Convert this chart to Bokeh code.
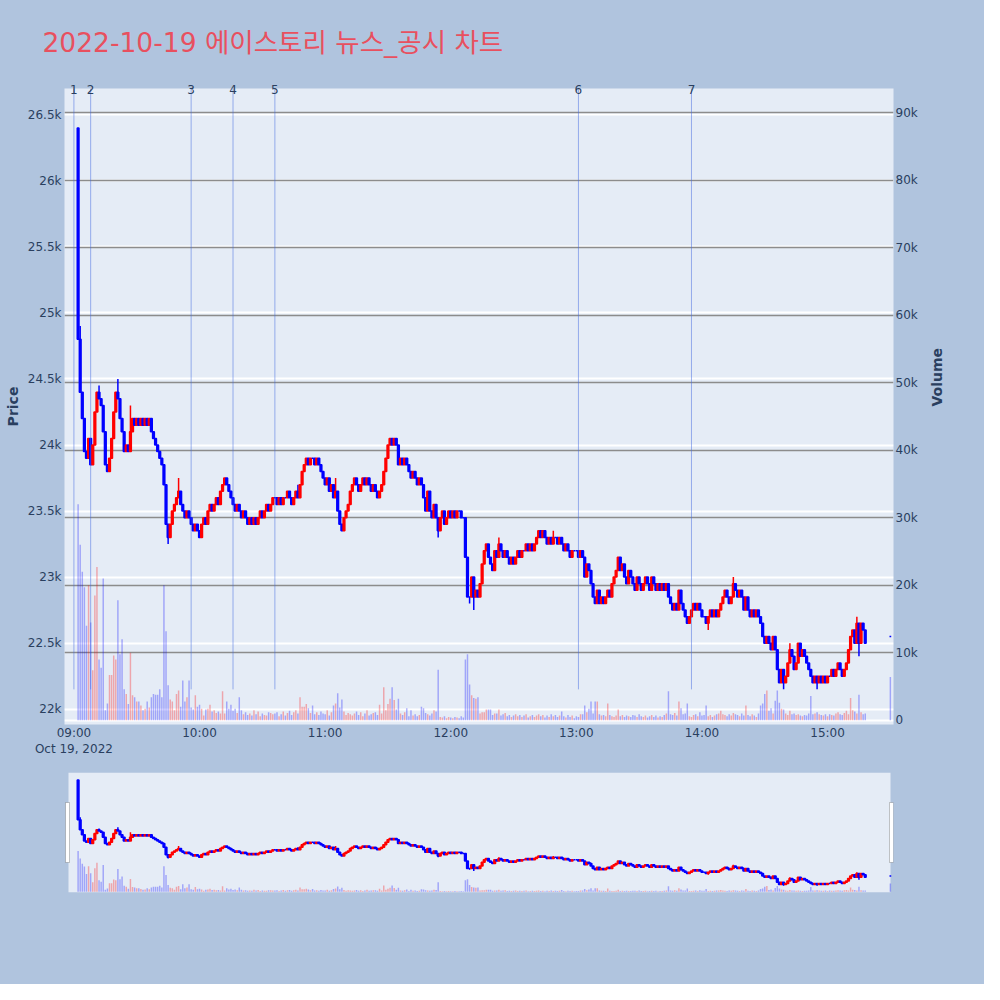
import math
import pandas as pd
from bokeh.plotting import figure
from bokeh.models import (ColumnDataSource, Range1d, LinearAxis, DatetimeAxis, FixedTicker,
                          CustomJSTickFormatter, DatetimeTickFormatter, Grid, BoxAnnotation)
from bokeh.layouts import column
from bokeh.embed import file_html
from bokeh.resources import INLINE

# ---------------- data ----------------
DAY = "2022-10-19"
TITLE = "2022-10-19 에이스토리 뉴스_공시 차트"
FIRST_MINUTE = "09:02"
FIRST_OPEN = 26400

closes = [
    24800, 24400, 24200, 23950, 23900, 24050, 23850, 24000, 24250, 24400,  # 09:02-09:11
    24350, 24300, 24100, 23850, 23800, 23900, 24050, 24250, 24400, 24350,  # 09:12-09:21
    24200, 24100, 23950, 24000, 23950, 24100, 24200, 24150, 24200, 24150,  # 09:22-09:31
    24200, 24150, 24200, 24150, 24200, 24100, 24050, 24000, 23950, 23900,  # 09:32-09:41
    23850, 23700, 23400, 23300, 23400, 23500, 23550, 23600, 23650, 23550,  # 09:42-09:51
    23500, 23450, 23500, 23450, 23400, 23350, 23400, 23350, 23300, 23400,  # 09:52-10:01
    23450, 23400, 23500, 23550, 23500, 23550, 23600, 23550, 23650, 23700,  # 10:02-10:11
    23750, 23700, 23650, 23600, 23550, 23500, 23550, 23500, 23450, 23500,  # 10:12-10:21
    23450, 23400, 23450, 23400, 23450, 23400, 23450, 23500, 23450, 23500,  # 10:22-10:31
    23550, 23500, 23550, 23600, 23600, 23550, 23600, 23550, 23600, 23600,  # 10:32-10:41
    23650, 23600, 23550, 23600, 23650, 23600, 23700, 23800, 23850, 23900,  # 10:42-10:51
    23850, 23900, 23900, 23850, 23900, 23850, 23800, 23750, 23700, 23750,  # 10:52-11:01
    23650, 23700, 23600, 23650, 23500, 23400, 23350, 23450, 23500, 23550,  # 11:02-11:11
    23650, 23700, 23750, 23700, 23650, 23700, 23750, 23700, 23750, 23700,  # 11:12-11:21
    23650, 23700, 23650, 23600, 23650, 23700, 23800, 23900, 24000, 24050,  # 11:22-11:31
    24000, 24050, 24000, 23850, 23900, 23850, 23900, 23850, 23800, 23750,  # 11:32-11:41
    23800, 23750, 23700, 23750, 23700, 23600, 23500, 23650, 23500, 23450,  # 11:42-11:51
    23550, 23450, 23350, 23450, 23500, 23400, 23450, 23500, 23450, 23500,  # 11:52-12:01
    23450, 23500, 23500, 23450, 23450, 23150, 22850, 22850, 23000, 22850,  # 12:02-12:11
    22900, 22850, 22950, 23100, 23200, 23250, 23150, 23100, 23050, 23200,  # 12:12-12:21
    23150, 23250, 23200, 23150, 23200, 23150, 23100, 23150, 23100, 23150,  # 12:22-12:31
    23200, 23150, 23200, 23200, 23250, 23200, 23250, 23200, 23250, 23300,  # 12:32-12:41
    23350, 23300, 23350, 23300, 23250, 23300, 23250, 23300, 23300, 23250,  # 12:42-12:51
    23300, 23250, 23200, 23250, 23200, 23150, 23200, 23200, 23200, 23150,  # 12:52-13:01
    23200, 23150, 23000, 23100, 23050, 22950, 22850, 22800, 22900, 22800,  # 13:02-13:11
    22850, 22800, 22850, 22900, 22850, 22950, 23000, 23050, 23150, 23050,  # 13:12-13:21
    23100, 23000, 22950, 23050, 23000, 22950, 22900, 23000, 22950, 22900,  # 13:22-13:31
    22950, 23000, 22950, 22900, 23000, 22950, 22900, 22950, 22900, 22950,  # 13:32-13:41
    22900, 22950, 22850, 22800, 22750, 22800, 22750, 22900, 22800, 22750,  # 13:42-13:51
    22700, 22650, 22700, 22750, 22800, 22750, 22800, 22750, 22700, 22700,  # 13:52-14:01
    22650, 22700, 22750, 22700, 22750, 22700, 22750, 22800, 22850, 22900,  # 14:02-14:11
    22850, 22800, 22850, 22950, 22900, 22850, 22900, 22850, 22750, 22850,  # 14:12-14:21
    22750, 22700, 22750, 22700, 22750, 22700, 22650, 22550, 22500, 22550,  # 14:22-14:31
    22500, 22450, 22550, 22450, 22300, 22200, 22300, 22200, 22250, 22350,  # 14:32-14:41
    22450, 22400, 22300, 22350, 22500, 22400, 22450, 22400, 22350, 22300,  # 14:42-14:51
    22250, 22200, 22250, 22200, 22250, 22200, 22250, 22200, 22250, 22250,  # 14:52-15:01
    22300, 22250, 22300, 22350, 22300, 22250, 22300, 22350, 22450, 22550,  # 15:02-15:11
    22600, 22500, 22650, 22500, 22650, 22600, 22500,                       # 15:12-15:18
]

volumes = [
    32000, 26000, 22000, 19700, 14000, 20000, 14500, 7400, 18500, 22700,
    9000, 7800, 21000, 1500, 2500, 6700, 6700, 9600, 9000, 17800,
    9800, 12000, 4600, 3900, 2400, 10000, 3700, 3400, 2800, 2800,
    2200, 1500, 1700, 2800, 1900, 3400, 3900, 3800, 3800, 4600,
    3400, 20000, 13200, 5200, 3100, 2800, 1500, 3900, 4400, 2000,
    5900, 2800, 3400, 5900, 1900, 1600, 3700, 2000, 2300, 1700,
    700, 1600, 1700, 2300, 1300, 1500, 1100, 1300, 1000, 4300,
    1000, 2800, 1700, 2300, 1400, 1700, 1100, 3400, 1500, 900,
    1200, 800, 1000, 700, 1500, 900, 1300, 600, 1000, 800,
    700, 1200, 1100, 900, 1000, 1200, 600, 900, 1300, 700,
    1100, 1400, 800, 1200, 1500, 1000, 3400, 2000, 2000, 2400,
    1800, 1100, 2200, 900, 1200, 800, 1300, 1000, 900, 1500,
    700, 1200, 2200, 2500, 4000, 1900, 3100, 1300, 800, 1100,
    900, 700, 1000, 1300, 800, 1200, 600, 1000, 1500, 700,
    900, 1100, 1200, 800, 2300, 1000, 4900, 1500, 2400, 3200,
    4900, 3000, 1600, 3200, 1000, 800, 1200, 1800, 600, 1500,
    700, 900, 600, 800, 2000, 1800, 1100, 900, 700, 1000,
    1500, 1300, 7500, 500, 400, 600, 300, 500, 400, 300,
    500, 400, 300, 600, 400, 9000, 9800, 5300, 3700, 3300,
    3200, 3400, 1000, 1200, 1200, 1600, 1600, 1600, 800, 1000,
    1000, 1600, 700, 900, 1100, 600, 800, 500, 700, 900,
    600, 800, 500, 700, 900, 400, 600, 800, 500, 700,
    900, 600, 800, 400, 700, 500, 900, 600, 800, 500,
    700, 1300, 600, 400, 800, 500, 700, 300, 600, 500,
    900, 900, 2200, 1200, 1700, 2800, 1000, 2800, 2800, 900,
    700, 800, 600, 2500, 800, 600, 500, 700, 1600, 600,
    800, 500, 700, 600, 500, 800, 700, 500, 900, 600,
    500, 700, 400, 600, 800, 500, 700, 400, 600, 500,
    800, 1000, 4300, 900, 800, 1100, 700, 2800, 1800, 900,
    1000, 2500, 600, 500, 800, 900, 600, 1200, 700, 800,
    2200, 600, 800, 500, 700, 900, 1000, 1400, 900, 800,
    600, 900, 700, 1100, 900, 800, 600, 1000, 700, 2200,
    800, 600, 900, 700, 500, 1000, 2200, 2500, 3900, 4400,
    1400, 1800, 1000, 2900, 4400, 2600, 1700, 1600, 1000, 800,
    1400, 900, 1000, 800, 900, 700, 600, 800, 700, 1000,
    3600, 900, 1000, 1200, 900, 800, 700, 900, 600, 900,
    800, 700, 1000, 1200, 900, 800, 1100, 1400, 900, 3300,
    1500, 1300, 1000, 3800, 1200, 900, 1000,
]

extra_high = {"09:03": 24900, "09:12": 24450, "09:21": 24500, "09:27": 24300, "09:50": 23750,
              "10:47": 23700, "11:05": 23750, "12:23": 23300, "12:49": 23350, "14:15": 23000,
              "14:42": 22500, "15:14": 22700}
extra_low = {"09:45": 23250, "11:54": 23300, "12:09": 22800, "12:11": 22750, "14:03": 22600,
             "14:39": 22150, "14:55": 22150, "15:15": 22400}

CLOSE_TIME = "15:30"
CLOSE_PRICE = 22550
CLOSE_VOLUME = 6400

news_times = ["09:00", "09:08", "09:56", "10:16", "10:36", "13:01", "13:55"]
news_labels = ["1", "2", "3", "4", "5", "6", "7"]

price_ticks = [22000, 22500, 23000, 23500, 24000, 24500, 25000, 25500, 26000, 26500]
volume_ticks = [0, 10000, 20000, 30000, 40000, 50000, 60000, 70000, 80000, 90000]
hour_ticks = ["09:00", "10:00", "11:00", "12:00", "13:00", "14:00", "15:00"]

# ---------------- layout constants ----------------
PRICE_MIN, PRICE_MAX = 21884, 26699
VOL_MIN, VOL_MAX = -622, 93600
X_START, X_END = "08:55:30", "15:31:30"
FRAME_W, FRAME_H = 829, 636
PAGE_BG = "#b0c4de"
PLOT_BG = "#e5ecf6"
FONT_COLOR = "#2a3f5f"
FONT = "DejaVu Sans"
INC, DEC = "#ff0000", "#0000ff"


def ms(hhmm):
    return pd.Timestamp(f"{DAY} {hhmm}").value // 10**6


# ---------------- build candles ----------------
times = list(pd.date_range(f"{DAY} {FIRST_MINUTE}", periods=len(closes), freq="min"))
opens = [FIRST_OPEN] + closes[:-1]
highs, lows = [], []
for t, o, c in zip(times, opens, closes):
    key = t.strftime("%H:%M")
    highs.append(max(o, c, extra_high.get(key, c)))
    lows.append(min(o, c, extra_low.get(key, c)))

times.append(pd.Timestamp(f"{DAY} {CLOSE_TIME}"))
opens.append(CLOSE_PRICE)
closes_all = closes + [CLOSE_PRICE]
highs.append(CLOSE_PRICE)
lows.append(CLOSE_PRICE)
vols = volumes + [CLOSE_VOLUME]

colors = [INC if c > o else DEC for o, c in zip(opens, closes_all)]
src = ColumnDataSource(dict(
    t=times, o=opens, c=closes_all, h=highs, l=lows,
    top=[max(o, c) for o, c in zip(opens, closes_all)],
    bot=[min(o, c) for o, c in zip(opens, closes_all)],
    color=colors, vol=vols,
))

day_low = min(lows)
news_src = ColumnDataSource(dict(
    t=[ms(h) for h in news_times],
    y0=[day_low] * len(news_times), y1=[PRICE_MAX] * len(news_times),
))

BODY_W = 50 * 1000
BAR_W = 42 * 1000


def draw_series(fig):
    fig.vbar(x="t", top="vol", bottom=0, width=BAR_W, fill_color="color", fill_alpha=0.3,
             line_color=None, y_range_name="vol", source=src)
    fig.segment(x0="t", y0="l", x1="t", y1="h", line_color="color", line_width=1.5, source=src)
    fig.vbar(x="t", top="top", bottom="bot", width=BODY_W, fill_color="color",
             line_color="color", line_width=1.5, source=src)


def style_axis(ax):
    ax.axis_line_color = None
    ax.major_tick_line_color = None
    ax.minor_tick_line_color = None
    ax.major_tick_out = 0
    ax.major_tick_in = 0
    ax.major_label_text_font = FONT
    ax.major_label_text_font_size = "12px"
    ax.major_label_text_color = FONT_COLOR
    ax.axis_label_text_font = FONT
    ax.axis_label_text_font_size = "14px"
    ax.axis_label_text_font_style = "bold"
    ax.axis_label_text_color = FONT_COLOR


# ---------------- main figure ----------------
p = figure(frame_width=FRAME_W, frame_height=FRAME_H, x_axis_type="datetime",
           x_range=Range1d(ms(X_START), ms(X_END)),
           y_range=Range1d(PRICE_MIN, PRICE_MAX),
           output_backend="svg", toolbar_location=None,
           min_border_left=64, min_border_right=91, min_border_top=88, min_border_bottom=40,
           background_fill_color=PLOT_BG, border_fill_color=PAGE_BG, outline_line_color=None)
p.extra_y_ranges = {"vol": Range1d(VOL_MIN, VOL_MAX)}

p.title.text = TITLE
p.title.text_font = FONT + ", Noto Sans CJK KR"
p.title.text_font_size = "26.5px"
p.title.text_font_style = "normal"
p.title.text_color = "#e8505f"
p.title.align = "left"
p.title.offset = -22
p.title.standoff = 48

p.xgrid.visible = False
p.ygrid.ticker = FixedTicker(ticks=price_ticks)
p.ygrid.grid_line_color = "white"
p.ygrid.grid_line_width = 2
p.add_layout(Grid(dimension=1, ticker=FixedTicker(ticks=volume_ticks[1:]), y_range_name="vol",
                  grid_line_color="#8c8c8c", grid_line_width=1.5))
p.add_layout(Grid(dimension=1, ticker=FixedTicker(ticks=volume_ticks[:1]), y_range_name="vol",
                  grid_line_color="white", grid_line_width=2))

ya = p.yaxis[0]
ya.ticker = FixedTicker(ticks=price_ticks)
ya.formatter = CustomJSTickFormatter(code="return (tick / 1000) + 'k';")
ya.axis_label = "Price"
style_axis(ya)
ya.major_label_standoff = 3
ya.axis_label_standoff = 4

va = LinearAxis(y_range_name="vol", ticker=FixedTicker(ticks=volume_ticks),
                formatter=CustomJSTickFormatter(code="return tick == 0 ? '0' : (tick / 1000) + 'k';"),
                axis_label="Volume")
style_axis(va)
va.major_label_standoff = 2
va.axis_label_standoff = 16
if "axis_label_orientation" in va.properties():
    va.axis_label_orientation = math.pi / 2
p.add_layout(va, "right")

date_fmt = "%b %d, %Y"
xa = p.xaxis[0]
xa.ticker = FixedTicker(ticks=[ms(h) for h in hour_ticks])
xa.formatter = DatetimeTickFormatter(
    minutes="%H:%M", hourmin="%H:%M", hours="%H:%M", days="%H:%M", minsec="%H:%M",
    context=DatetimeTickFormatter(minutes=date_fmt, hourmin=date_fmt, hours=date_fmt,
                                  days=date_fmt, minsec=date_fmt),
    context_which="start", context_location="below")
style_axis(xa)
xa.major_label_standoff = 1

# news markers: numbered axis on top, vertical lines in the plot
na = DatetimeAxis(ticker=FixedTicker(ticks=[ms(h) for h in news_times]),
                  formatter=CustomJSTickFormatter(args=dict(labels=news_labels),
                                                  code="return labels[index];"))
style_axis(na)
na.major_label_standoff = -5
p.add_layout(na, "above")

draw_series(p)

p.segment(x0="t", y0="y0", x1="t", y1="y1", line_color="#4169e1", line_alpha=0.5,
          line_width=1, source=news_src)

# ---------------- range slider ----------------
s = figure(frame_width=FRAME_W, frame_height=120, x_axis_type="datetime",
           x_range=Range1d(ms(X_START), ms(X_END)),
           y_range=Range1d(PRICE_MIN, PRICE_MAX),
           x_axis_location=None, y_axis_location=None,
           output_backend="svg", toolbar_location=None,
           min_border_left=64, min_border_right=91, min_border_top=8, min_border_bottom=92,
           background_fill_color=PAGE_BG, border_fill_color=PAGE_BG, outline_line_color=None)
s.extra_y_ranges = {"vol": Range1d(VOL_MIN, VOL_MAX)}
s.grid.visible = False
s.add_layout(BoxAnnotation(left=4, right=FRAME_W - 3, bottom=0, top=120,
                           left_units="screen", right_units="screen",
                           bottom_units="screen", top_units="screen",
                           fill_color=PLOT_BG, fill_alpha=1, line_color=None, level="underlay"))
draw_series(s)
for left in (1, FRAME_W - 4):
    s.add_layout(BoxAnnotation(left=left, right=left + 4, bottom=30, top=90,
                               left_units="screen", right_units="screen",
                               bottom_units="screen", top_units="screen",
                               fill_color="white", fill_alpha=1, line_color="#444444",
                               line_width=1, level="overlay"))

layout = column(p, s, spacing=0, styles={"background-color": PAGE_BG})
open("out.html", "w").write(file_html(layout, INLINE))
